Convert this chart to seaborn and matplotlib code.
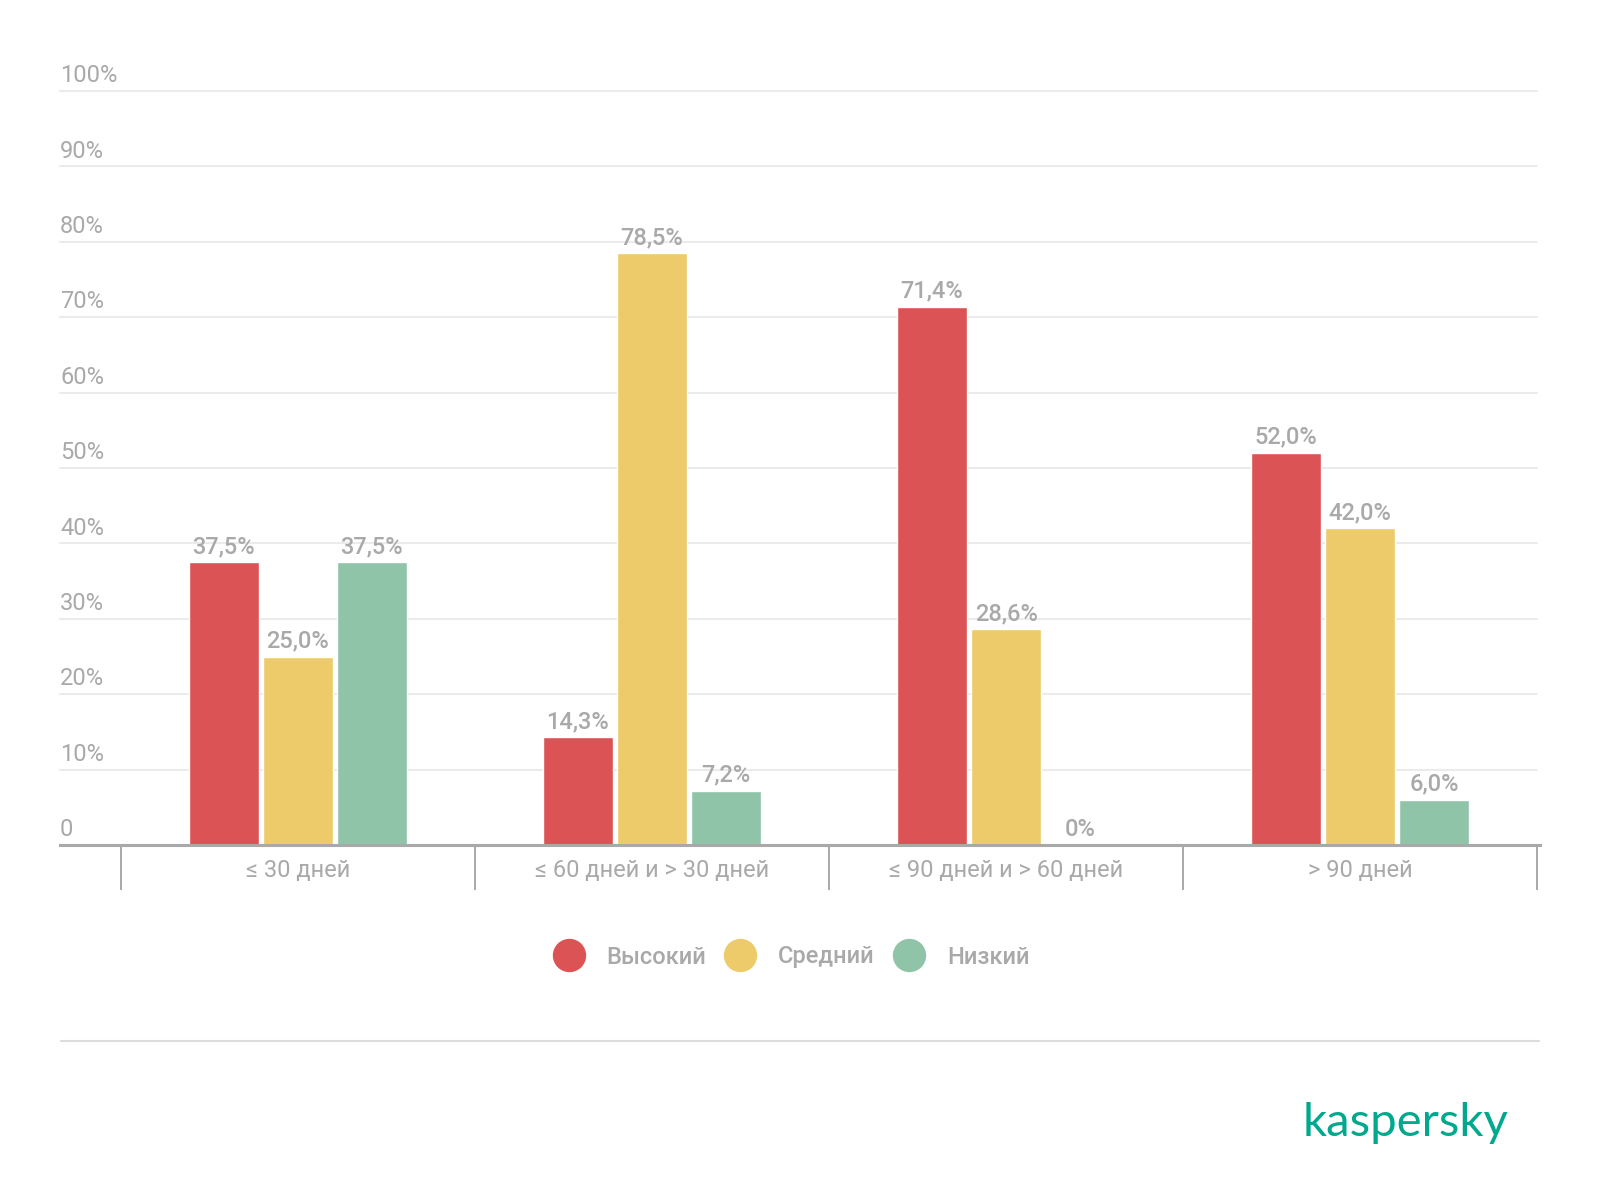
import matplotlib
matplotlib.use("Agg")
import matplotlib.pyplot as plt
from matplotlib.lines import Line2D
import seaborn as sns
import pandas as pd

categories = ["≤ 30 дней", "≤ 60 дней и > 30 дней", "≤ 90 дней и > 60 дней", "> 90 дней"]
levels = ["Высокий", "Средний", "Низкий"]
high = [37.5, 14.3, 71.4, 52.0]
medium = [25.0, 78.5, 28.6, 42.0]
low = [37.5, 7.2, 0.0, 6.0]
y_ticks = [0, 10, 20, 30, 40, 50, 60, 70, 80, 90, 100]
y_tick_labels = ["0", "10%", "20%", "30%", "40%", "50%", "60%", "70%", "80%", "90%", "100%"]
colors = ["#dc5355", "#eecb6a", "#8fc4a8"]

sns.set_theme(style="white")
plt.rcParams["font.family"] = ["Roboto", "DejaVu Sans"]

GREY = "#a9a9a9"

rows = []
for lvl, vals in zip(levels, [high, medium, low]):
    for c, v in zip(categories, vals):
        rows.append({"cat": c, "level": lvl, "val": v})
df = pd.DataFrame(rows)

fig = plt.figure(figsize=(16, 12.04), dpi=100)
ax = fig.add_axes([60 / 1600, 1 - 845 / 1204, 1480 / 1600, (845 - 91) / 1204])

sns.barplot(data=df, x="cat", y="val", hue="level", order=categories, hue_order=levels,
            palette=colors, width=0.627, gap=0.05, ax=ax, legend=False,
            saturation=1, errorbar=None)

ax.set_ylim(0, 100)
ax.set_xlim(-0.672, 3.508)

# gridlines
for t in y_ticks[1:]:
    ax.plot([-0.672, 3.5], [t, t], color="#ebebeb", lw=1.5, zorder=0, clip_on=False)
ax.set_yticks([])
for t, lab in zip(y_ticks, y_tick_labels):
    ax.text(0, t + 0.5, lab, transform=ax.get_yaxis_transform(), ha="left", va="bottom",
            fontsize=17, color=GREY)

for s in ["top", "right", "left"]:
    ax.spines[s].set_visible(False)
ax.spines["bottom"].set_color(GREY)
ax.spines["bottom"].set_linewidth(2.2)

ax.set_xticks(range(len(categories)))
ax.set_xticklabels(categories, fontsize=17, color=GREY)
ax.set_xticks([-0.5, 0.5, 1.5, 2.5, 3.5], minor=True)
ax.tick_params(axis="x", which="major", bottom=True, length=0, pad=10)
ax.tick_params(axis="x", which="minor", bottom=True, length=32.5, width=1.4, color=GREY,
               direction="out")
ax.set_xlabel("")
ax.set_ylabel("")

for cont in ax.containers:
    labs = []
    for b in cont:
        h = b.get_height()
        labs.append("0%" if h == 0 else f"{h:.1f}%".replace(".", ","))
    ax.bar_label(cont, labels=labs, padding=3, fontsize=17, color=GREY, fontweight="medium")

handles = [Line2D([0], [0], marker="o", linestyle="", markersize=23, markerfacecolor=c,
                  markeredgecolor=c) for c in colors]
leg = fig.legend(handles, levels, loc="center", bbox_to_anchor=(0.492, 1 - 957 / 1204), ncol=3,
                 frameon=False, fontsize=17, handletextpad=0.6, columnspacing=0.45)
for t in leg.get_texts():
    t.set_color(GREY)
    t.set_fontweight("medium")

fig.add_artist(Line2D([61 / 1600, 1539 / 1600], [1 - 1041 / 1204] * 2, color="#dddddd", lw=1.5))

fig.text(1508 / 1600, 1 - 1123 / 1204, "kaspersky", ha="right", va="center", fontsize=34,
         color="#00a88e", family=["Lato", "DejaVu Sans"])

fig.savefig("out.png", dpi=100, facecolor="white")
